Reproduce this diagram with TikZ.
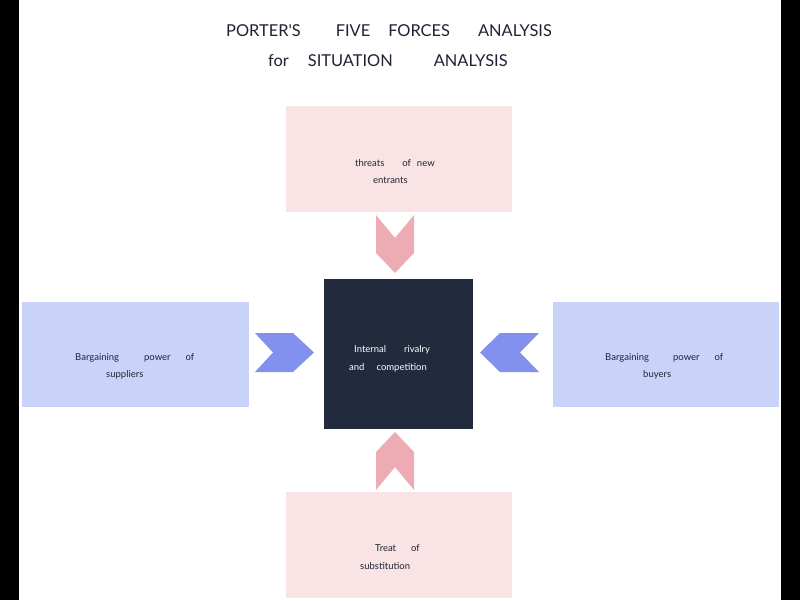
\documentclass[tikz,border=0pt]{standalone}
\usepackage{fontspec}
\setmainfont{Lato}
\definecolor{pinkbox}{HTML}{F9E3E4}
\definecolor{pinkarr}{HTML}{EDACB4}
\definecolor{bluebox}{HTML}{C9D3F9}
\definecolor{bluearr}{HTML}{8391EE}
\definecolor{navy}{HTML}{222A3D}
\definecolor{ink}{HTML}{1E2433}
\begin{document}
\begin{tikzpicture}[x=1pt,y=-1pt,
  titletext/.style={anchor=base west,inner sep=0pt,font=\fontsize{16.4}{18}\selectfont,text=ink},
  smalltext/.style={anchor=base west,inner sep=0pt,font=\fontsize{9.5}{11}\selectfont,text=ink},
  whitetext/.style={smalltext,text=white},
  forcebox/.style={draw=none,inner sep=0pt}]
\useasboundingbox (0,0) rectangle (800,600);
\fill[white] (0,0) rectangle (800,600);
\fill[black] (0,0) rectangle (19,600);
\fill[black] (781,0) rectangle (800,600);
% title
\node[titletext] (title1) at (226,36.5) {PORTER\textquotesingle S\hspace{35pt}FIVE\hspace{18pt}FORCES\hspace{28pt}ANALYSIS};
\node[titletext] (title2) at (268,66.5) {for\hspace{19pt}SITUATION\hspace{41pt}ANALYSIS};
% boxes
\fill[pinkbox] (286,106) rectangle (512,212);
\fill[pinkbox] (286,492) rectangle (512,598);
\fill[bluebox] (22,302) rectangle (249,407);
\fill[bluebox] (553,302) rectangle (779,407);
\fill[navy] (324,279) rectangle (473,429);
% chevrons
\fill[pinkarr] (376,215) -- (395,238) -- (414,215) -- (414,253) -- (395,273) -- (376,253) -- cycle;
\fill[pinkarr] (376,490) -- (395,467) -- (414,490) -- (414,452) -- (395,432) -- (376,452) -- cycle;
\fill[bluearr] (255,333) -- (293,333) -- (314,352.5) -- (293,372) -- (255,372) -- (273,352.5) -- cycle;
\fill[bluearr] (539,333) -- (500,333) -- (480,352.5) -- (500,372) -- (539,372) -- (520,352.5) -- cycle;
% labels
\node[smalltext] (topa) at (355,166) {threats\hspace{18pt}of\hspace{6pt}new};
\node[smalltext] (topb) at (373,183) {entrants};
\node[whitetext] (cena) at (354,352.5) {Internal\hspace{18pt}rivalry};
\node[whitetext] (cenb) at (349,370) {and\hspace{12pt}competition};
\node[smalltext] (lefta) at (75,360) {Bargaining\hspace{25pt}power\hspace{15pt}of};
\node[smalltext] (leftb) at (106,377.5) {suppliers};
\node[smalltext] (righta) at (605,360) {Bargaining\hspace{24pt}power\hspace{15pt}of};
\node[smalltext] (rightb) at (643,377.5) {buyers};
\node[smalltext] (bota) at (375,551) {Treat\hspace{15pt}of};
\node[smalltext] (botb) at (360,569) {substitution};
\end{tikzpicture}
\end{document}
